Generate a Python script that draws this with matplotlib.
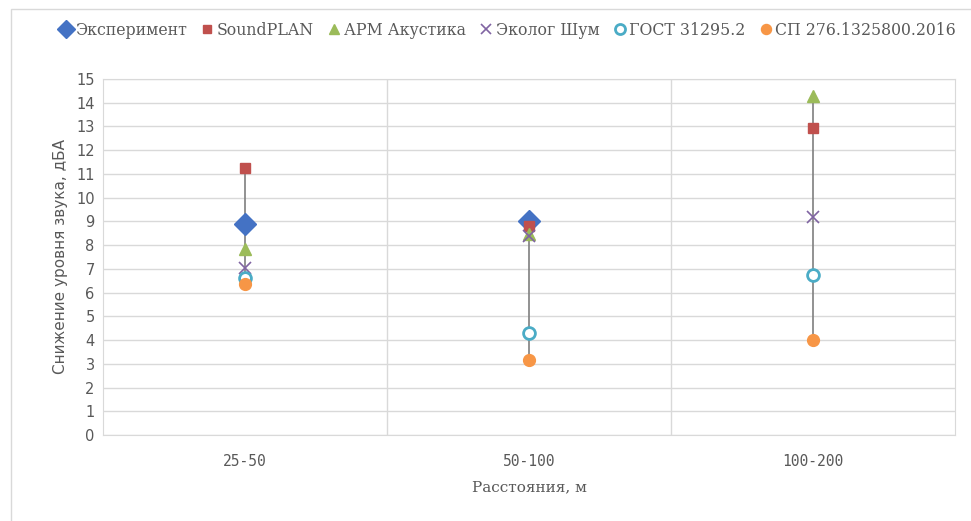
import matplotlib
matplotlib.use("Agg")
import matplotlib.pyplot as plt
from matplotlib.patches import Rectangle
import numpy as np

categories = ["25-50", "50-100", "100-200"]
experiment = [8.9, 9.0, np.nan]
soundplan = [11.25, 8.8, 12.95]
arm_acoustic = [7.85, 8.45, 14.3]
ecolog_noise = [7.05, 8.4, 9.2]
gost = [6.6, 4.3, 6.75]
sp = [6.35, 3.15, 4.0]

series = [
    ("Эксперимент", experiment, dict(marker="D", color="#4472C4", ms=11, mfc="#4472C4")),
    ("SoundPLAN", soundplan, dict(marker="s", color="#C0504D", ms=7.5, mfc="#C0504D")),
    ("АРМ Акустика", arm_acoustic, dict(marker="^", color="#9BBB59", ms=8.5, mfc="#9BBB59")),
    ("Эколог Шум", ecolog_noise, dict(marker="x", color="#8064A2", ms=9, mew=1.2)),
    ("ГОСТ 31295.2", gost, dict(marker="o", color="#4BACC6", ms=8.5, mfc="white", mew=2)),
    ("СП 276.1325800.2016", sp, dict(marker="o", color="#F79646", ms=8.5, mfc="#F79646", mec="#F79646")),
]

fig = plt.figure(figsize=(9.71, 5.21), dpi=100)
fig.patches.append(Rectangle((11 / 971, -0.05), 1.1, (521 - 9) / 521 + 0.05,
                             transform=fig.transFigure, fill=False,
                             edgecolor="#d9d9d9", lw=1))
ax = fig.add_axes([103 / 971, 86 / 521, (955 - 103) / 971, (435 - 79) / 521])

x = np.arange(len(categories))
# high-low lines
all_vals = np.array([s[1] for s in series], dtype=float)
lows = np.nanmin(all_vals, axis=0)
highs = np.nanmax(all_vals, axis=0)
ax.vlines(x, lows, highs, color="#7f7f7f", lw=1.2, zorder=2)

for name, vals, style in series:
    ax.plot(x, vals, linestyle="none", label=name, zorder=3, **style)

ax.set_xlim(-0.5, len(categories) - 0.5)
ax.set_ylim(0, 15)
ax.set_yticks(range(0, 16))
ax.set_xticks(x)
ax.set_xticklabels(categories)
ax.set_xticks([0.5, 1.5], minor=True)
ax.tick_params(axis="x", which="both", length=0, pad=14, labelsize=10.5, colors="#595959")
ax.tick_params(axis="y", length=0, labelsize=10.5, colors="#595959", pad=6)
for lbl in ax.get_xticklabels():
    lbl.set_family("DejaVu Sans Mono")
ax.grid(axis="y", color="#d9d9d9", lw=1)
ax.grid(axis="x", which="minor", color="#d9d9d9", lw=1)
for sp_ in ax.spines.values():
    sp_.set_color("#d9d9d9")
ax.set_axisbelow(True)

ax.set_ylabel("Снижение уровня звука, дБА", fontsize=11, color="#595959", labelpad=6)
ax.set_xlabel("Расстояния, м", fontsize=11, color="#595959", family="DejaVu Serif",
              labelpad=8)

leg = fig.legend(loc="upper center", bbox_to_anchor=(0.522, 0.985), ncol=6,
                 frameon=False, handletextpad=0.1, columnspacing=0.8,
                 markerscale=0.85, handlelength=1.0,
                 prop={"family": "DejaVu Serif", "size": 11.3})
for t in leg.get_texts():
    t.set_color("#595959")

fig.savefig("out.png", dpi=100)
